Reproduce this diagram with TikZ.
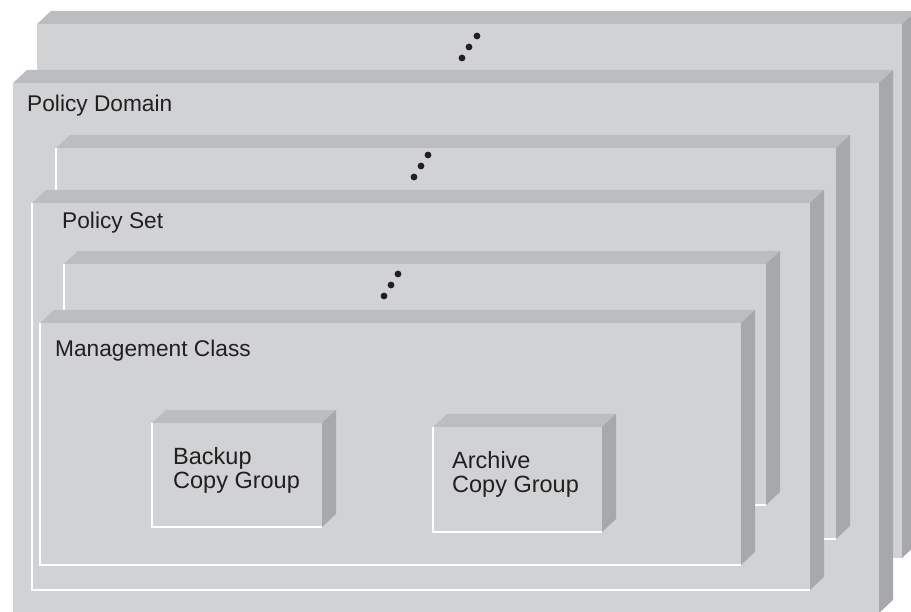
\documentclass[tikz,border=0pt]{standalone}
\usepackage{fontspec}
\setmainfont{Liberation Sans}
\definecolor{facegray}{RGB}{209,210,212}
\definecolor{topgray}{RGB}{188,189,192}
\definecolor{sidegray}{RGB}{167,168,171}
\definecolor{inkblack}{RGB}{35,31,32}
\tikzset{
  frontface/.style={fill=facegray},
  topface/.style={fill=topgray},
  sideface/.style={fill=sidegray},
  rimline/.style={draw=white, line width=1.6pt},
  lbl/.style={anchor=base west, inner sep=0pt, text=inkblack, font=\fontsize{22.7}{24}\selectfont},
  boxlbl/.style={anchor=base west, inner sep=0pt, text=inkblack, font=\fontsize{23.5}{23.5}\selectfont, align=left},
  ellipsisdot/.style={fill=inkblack},
}
% a bevelled slab: front face (x1,y1)-(x2,y2), depth 14 right and 13 up
\newcommand\drawslab[4]{%
  \fill[frontface] (#1,#2) rectangle (#3,#4);
  \fill[topface] (#1,#2) -- ({#1+14},{#2-13}) -- ({#3+14},{#2-13}) -- (#3,#2) -- cycle;
  \fill[sideface] (#3,#2) -- ({#3+14},{#2-13}) -- ({#3+14},{#4-13}) -- (#3,#4) -- cycle;
}
% white rim along the left and bottom of the front face
\newcommand\slabrim[4]{%
  \draw[rimline] (#1,#2) -- (#1,#4) -- (#3,#4);
}
% three dots standing for further layers
\newcommand\layerdots[6]{%
  \fill[ellipsisdot] (#1,#2) circle (3.4);
  \fill[ellipsisdot] (#3,#4) circle (3.4);
  \fill[ellipsisdot] (#5,#6) circle (3.4);
}
\begin{document}
\begin{tikzpicture}[x=1pt,y=-1pt]
\useasboundingbox (0,0) rectangle (911,612);
\clip (0,0) rectangle (911,612);

% policy domains
\drawslab{37}{24}{902}{558}
\layerdots{477}{36}{469}{47}{462}{58}
\drawslab{13}{83}{879}{613}
\node[lbl] (domain) at (27,112) {Policy Domain};

% policy sets
\drawslab{56}{148}{836}{539}
\slabrim{56}{148}{836}{539}
\layerdots{428}{155}{421}{166}{414}{177}
\drawslab{32}{203}{810}{590}
\slabrim{32}{203}{810}{590}
\node[lbl] (set) at (62,229) {Policy Set};

% management classes
\drawslab{64}{264}{766}{505}
\slabrim{64}{264}{766}{505}
\layerdots{398}{274}{391}{285}{384}{296}
\drawslab{40}{323}{741}{565}
\slabrim{40}{323}{741}{565}
\node[lbl] (mclass) at (55,357) {Management Class};

% copy groups (anchor sits on the baseline of the last line)
\drawslab{152}{423}{322}{527}
\slabrim{152}{423}{322}{527}
\node[boxlbl] (backup) at (173,488) {Backup\\Copy Group};

\drawslab{433}{427}{602}{532}
\slabrim{433}{427}{602}{532}
\node[boxlbl] (archive) at (452,492) {Archive\\Copy Group};
\end{tikzpicture}
\end{document}
